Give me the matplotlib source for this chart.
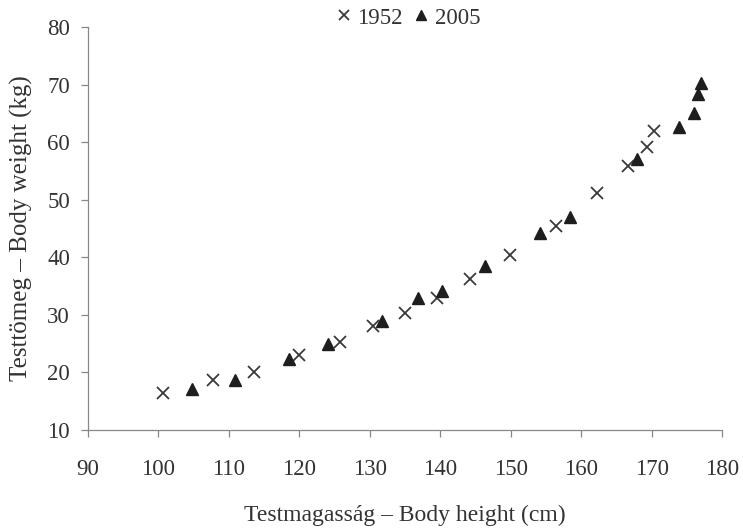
import matplotlib
matplotlib.use("Agg")
import matplotlib.pyplot as plt

plt.rcParams['font.family'] = ['Liberation Serif', 'DejaVu Serif']

h1952 = [100.6, 107.8, 113.5, 119.9, 125.8, 130.5, 135.0, 139.6, 144.2, 149.9, 156.4, 162.2, 166.7, 169.3, 170.3]
w1952 = [16.5, 18.6, 20.1, 23.1, 25.2, 28.1, 30.4, 32.9, 36.2, 40.4, 45.4, 51.1, 55.8, 59.1, 62.0]
h2005 = [104.8, 110.9, 118.5, 124.0, 131.7, 136.9, 140.3, 146.3, 154.1, 158.4, 167.9, 173.9, 176.0, 176.6, 177.0]
w2005 = [17.1, 18.7, 22.4, 24.9, 29.0, 32.9, 34.2, 38.5, 44.3, 47.0, 57.0, 62.6, 65.1, 68.3, 70.2]

xticks = [90, 100, 110, 120, 130, 140, 150, 160, 170, 180]
yticks = [10, 20, 30, 40, 50, 60, 70, 80]

fig = plt.figure(figsize=(7.43, 5.29), dpi=100)
ax = fig.add_axes([88/743, 1-430/529, (722-88)/743, (430-27)/529])

ax.plot(h1952, w1952, linestyle='none', marker='x', markersize=9, markeredgewidth=1.3,
        color='#3a3a3a', label='1952')
ax.plot(h2005, w2005, linestyle='none', marker='^', markersize=8.5, color='#1e1e1e',
        label='2005')

ax.set_xlim(90, 180)
ax.set_ylim(10, 80)
ax.set_xticks(xticks)
ax.set_yticks(yticks)

for s in ['top', 'right']:
    ax.spines[s].set_visible(False)
for s in ['left', 'bottom']:
    ax.spines[s].set_color('#888888')
    ax.spines[s].set_linewidth(0.9)

ax.tick_params(axis='both', colors='#888888', labelcolor='#333333', labelsize=16.5,
               direction='out', length=5, width=0.9)
ax.tick_params(axis='x', pad=16)
ax.tick_params(axis='y', pad=8)

ax.set_xlabel('Testmagasság – Body height (cm)', fontsize=17, color='#333333', labelpad=18)
ax.set_ylabel('Testtömeg – Body weight (kg)', fontsize=18, color='#333333', labelpad=10)

leg = ax.legend(loc='center', bbox_to_anchor=(408/743, 1-18/529), bbox_transform=fig.transFigure,
                ncol=2, frameon=False, fontsize=16.5, handlelength=0.7, handletextpad=0.25,
                columnspacing=0.45, borderpad=0, markerscale=0.85)
for t in leg.get_texts():
    t.set_color('#333333')

fig.savefig('out.png', dpi=100)
